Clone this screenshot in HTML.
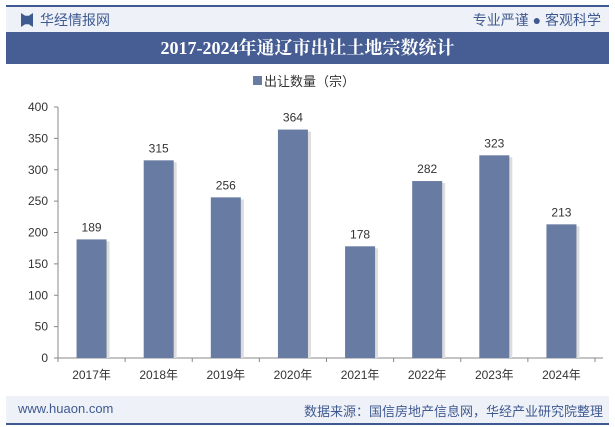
<!DOCTYPE html>
<html><head><meta charset="utf-8"><style>
body{margin:0;width:615px;height:427px;overflow:hidden;background:#fff;font-family:"Liberation Sans","Noto Sans CJK SC",sans-serif;position:relative}
.abs{position:absolute}
</style></head><body>
<div class="abs" style="left:6px;top:5px;width:603px;height:27px;background:#eef1f7;border-top:2px solid #3f5a91"></div>
<div class="abs" style="left:21px;top:13px;width:12px;height:14px;background:#3f5a91;clip-path:polygon(0 0,35% 20%,65% 20%,100% 0,100% 100%,65% 80%,35% 80%,0 100%)"></div>
<div class="abs" style="left:40px;top:10px;font-size:14px;color:#3f5a91">华经情报网</div>
<div class="abs" style="right:14px;top:10px;font-size:14px;color:#3f5a91">专业严谨 ● 客观科学</div>
<div class="abs" style="left:6px;top:32px;width:603px;height:32px;background:#465e94;color:#fff;font-family:'Liberation Serif','Noto Serif CJK SC',serif;font-weight:bold;font-size:18px;text-align:center;line-height:32px">2017-2024年通辽市出让土地宗数统计</div>
<svg class="abs" style="left:0;top:0" width="615" height="427" id="chart"></svg>
<div class="abs" style="left:6px;top:396px;width:603px;height:27px;background:#eef1f7;border-bottom:2px solid #3f5a91"></div>
<div class="abs" style="left:18px;top:401px;font-size:13px;color:#3f5a91">www.huaon.com</div>
<div class="abs" style="right:12px;top:401px;font-size:13px;color:#3f5a91">数据来源：国信房地产信息网，华经产业研究院整理</div>
<script>
const categories=["2017年","2018年","2019年","2020年","2021年","2022年","2023年","2024年"];
const values=[189,315,256,364,178,282,323,213];
const yTicks=[0,50,100,150,200,250,300,350,400];
const svg=document.getElementById('chart');const NS='http://www.w3.org/2000/svg';
const x0=58,x1=595,y0=358,y1=107,yMax=400;
const bw=(x1-x0)/categories.length;
const y=v=>y0-(v/yMax)*(y0-y1);
function mk(t,a,txt){const e=document.createElementNS(NS,t);for(const k in a)e.setAttribute(k,a[k]);if(txt!=null)e.textContent=txt;svg.appendChild(e);return e;}
// legend
let lg=mk('rect',{x:253,y:76,width:9,height:9,fill:'#687ba2'});


let lt=mk('text',{x:264,y:86,'font-size':13,fill:'#333'},'出让数量（宗）');


// axes
let ya=mk('line',{x1:x0,y1:y1,x2:x0,y2:y0,stroke:'#888'});


let xa=mk('line',{x1:x0,y1:y0,x2:x1+8,y2:y0,stroke:'#888'});


yTicks.forEach(v=>{
  const t=mk('text',{x:x0-10,y:y(v)+4,'font-size':12,fill:'#333','text-anchor':'end'},v);
  
  
  mk('line',{x1:x0-4,y1:y(v),x2:x0,y2:y(v),stroke:'#888'});
});
for(let i=0;i<=categories.length;i++){mk('line',{x1:x0+i*bw,y1:y0,x2:x0+i*bw,y2:y0+4,stroke:'#888'});}
categories.forEach((c,i)=>{
  const cx=x0+bw*(i+0.5);
  mk('rect',{x:cx-15+3,y:y(values[i])+2,width:30,height:y0-y(values[i])-2,fill:'#ddd'});
  const b=mk('rect',{x:cx-15,y:y(values[i]),width:30,height:y0-y(values[i]),fill:'#687ba2'});
  
  
  const vl=mk('text',{x:cx,y:y(values[i])-8,'font-size':12,fill:'#333','text-anchor':'middle'},values[i]);
  
  
  const xl=mk('text',{x:cx,y:y0+21,'font-size':12,fill:'#333','text-anchor':'middle'},c);
  
  
});
</script>
</body></html>
